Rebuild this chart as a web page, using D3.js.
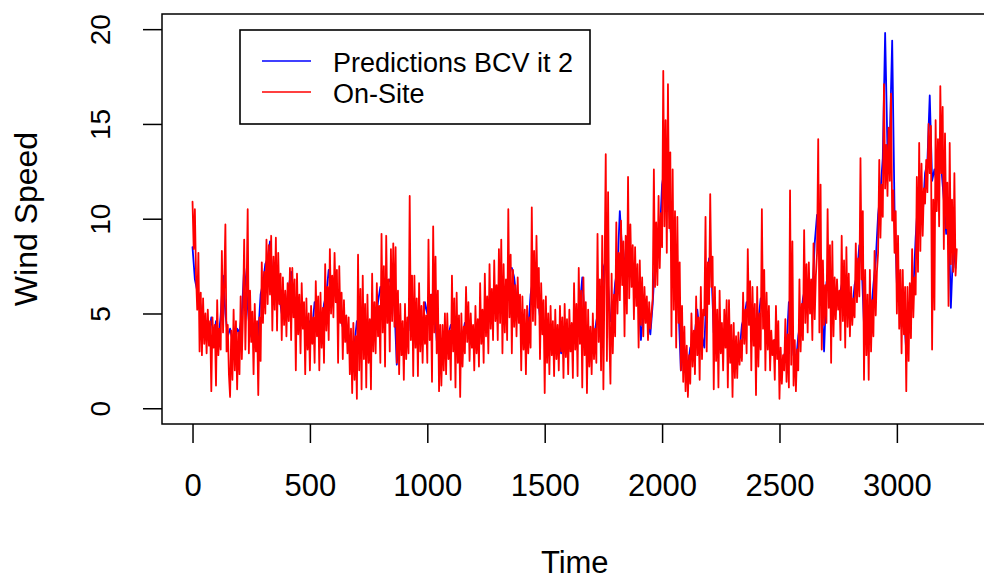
<!DOCTYPE html>
<html>
<head>
<meta charset="utf-8">
<script src="https://cdn.jsdelivr.net/npm/d3@7"></script>
<style>
  body { margin: 0; background: #fff; }
  svg { display: block; }
  text { font-family: "Liberation Sans", Arial, Helvetica, sans-serif; fill: #000; }
</style>
</head>
<body>
<svg id="chart" width="984" height="580"></svg>
<script>
// Measured wind speed, one value every 5 time steps
const onSiteStep = 5;
const onSite = [
  10.9, 8.4, 10.5, 7.0, 5.2, 8.2, 3.0, 6.1, 2.8, 5.8, 3.4, 5.0, 2.9, 5.2, 3.3, 4.6,
  0.9, 4.8, 3.2, 4.4, 1.2, 5.7, 2.8, 4.2, 3.1, 8.3, 4.0, 6.5, 9.7, 3.0, 4.4, 1.8,
  0.6, 4.1, 1.5, 5.2, 2.0, 4.6, 1.0, 4.0, 1.8, 5.9, 2.6, 5.0, 8.9, 3.1, 6.0, 10.5,
  2.9, 6.2, 3.5, 5.1, 1.8, 5.5, 3.0, 4.6, 0.7, 4.8, 2.5, 7.7, 4.5, 7.2, 5.0, 8.9,
  5.5, 8.6, 6.0, 9.1, 4.1, 8.0, 5.2, 9.0, 4.1, 8.2, 5.5, 7.1, 3.6, 6.9, 4.4, 6.2,
  3.8, 6.6, 4.6, 7.4,
  3.6, 7.4, 4.8, 6.8, 2.0, 7.1, 3.9, 6.0, 2.9, 6.6, 4.2, 5.6, 1.8, 5.8, 3.1, 5.0,
  2.0, 5.4, 3.4, 4.8, 2.4, 6.7, 3.8, 5.9, 2.0, 6.1, 3.2, 5.3, 2.4, 7.6, 4.1, 6.4,
  3.6, 8.4, 5.0, 7.0, 4.8, 8.2, 5.6, 7.3, 2.4, 7.5, 4.5, 6.1, 2.6, 5.7, 3.5, 4.9,
  2.9, 4.8, 1.8, 4.2, 0.8, 4.5, 1.5, 3.8, 0.5, 8.1, 2.0, 6.3, 1.0, 7.0, 2.6, 5.5,
  1.1, 6.0, 2.4, 4.7, 1.0, 7.1, 3.0, 5.6, 2.9, 6.6, 3.8, 5.4, 2.4, 9.2, 4.0, 7.5,
  2.2, 9.1, 4.5, 6.8, 3.0, 8.4, 4.6, 8.7,
  4.3, 8.5, 2.4, 6.2, 1.8, 5.5, 2.8, 4.6, 1.5, 5.5, 2.6, 4.8, 2.9, 11.2, 3.6, 7.0,
  1.7, 7.0, 3.2, 5.8, 1.7, 6.6, 3.0, 5.4, 2.4, 5.6, 3.4, 4.9, 2.4, 8.9, 3.6, 6.0,
  1.4, 9.6, 4.0, 8.0, 2.9, 6.2, 0.9, 4.4, 1.2, 4.4, 2.0, 5.0, 1.8, 5.0, 2.6, 4.1,
  1.5, 7.0, 3.0, 5.8, 1.1, 6.1, 2.4, 4.9, 0.6, 5.0, 2.2, 4.3, 2.9, 6.4, 3.5, 5.6,
  2.5, 5.0, 3.2, 4.4, 2.0, 5.4, 2.9, 4.7, 2.2, 6.6, 3.4, 5.2, 2.4, 7.1, 3.8, 5.9,
  2.9, 7.6, 4.2, 6.3, 3.6, 7.8, 4.6, 6.5,
  3.6, 8.4, 4.5, 8.9, 2.9, 7.6, 4.0, 6.8, 3.6, 10.5, 4.8, 8.1, 2.9, 7.3, 4.3, 6.5,
  3.8, 6.9, 4.5, 6.0, 2.0, 5.9, 3.1, 5.2, 1.8, 5.4, 2.9, 4.8, 3.2, 10.6, 4.6, 8.3,
  4.4, 9.1, 5.3, 7.4, 2.6, 6.6, 3.9, 5.7, 0.8, 5.9, 2.4, 5.0, 1.8, 5.4, 2.8, 4.6,
  1.7, 5.2, 2.6, 4.4, 2.0, 5.4, 3.0, 4.8, 1.6, 5.5, 2.7, 4.7, 1.8, 5.2, 3.0, 4.5,
  1.6, 6.6, 3.1, 5.5, 1.7, 7.4, 3.4, 6.2, 1.1, 6.9, 2.8, 5.6, 0.8, 5.2, 2.2, 4.3,
  1.8, 5.0, 2.6, 4.2, 2.4, 9.2, 3.5, 6.8,
  2.0, 9.1, 1.0, 7.2, 13.4, 2.5, 11.4, 4.0, 1.3, 7.1, 2.9, 6.0, 3.8, 9.8, 5.0, 8.2,
  5.7, 9.9, 6.5, 8.8, 3.8, 9.1, 5.0, 12.2, 5.8, 9.7, 6.4, 8.6, 4.7, 8.5, 5.4, 7.6,
  3.2, 7.8, 4.4, 6.9, 3.8, 6.4, 4.5, 5.9, 3.6, 5.6, 4.2, 5.0, 5.8, 12.6, 6.4, 9.8,
  6.5, 11.2, 7.4, 10.3, 8.5, 17.8, 9.6, 15.2, 8.2, 17.1, 9.5, 13.5, 3.8, 12.6, 5.2, 10.4,
  3.2, 10.1, 4.5, 7.7, 2.0, 5.4, 1.4, 4.3, 0.9, 3.3, 0.6, 2.8, 1.3, 5.0, 2.2, 4.1,
  1.8, 5.9, 2.8, 4.8, 1.5, 6.4, 2.6, 5.2, 4.9, 10.1, 3.0, 7.7,
  5.5, 11.3, 6.4, 8.0, 1.0, 6.4, 2.5, 5.2, 1.1, 6.2, 2.9, 4.5, 2.0, 5.2, 3.2, 5.7,
  1.1, 5.7, 2.4, 4.4, 0.6, 4.5, 1.6, 3.8, 1.6, 4.0, 2.3, 3.6, 2.5, 6.1, 3.4, 5.2,
  2.9, 8.4, 4.4, 6.7, 2.0, 6.4, 3.3, 5.5, 0.7, 6.4, 2.2, 5.0, 3.1, 10.5, 4.2, 7.3,
  2.0, 6.1, 3.1, 5.4, 2.0, 4.1, 2.8, 3.6, 1.5, 5.4, 2.6, 4.6, 0.5, 3.2, 1.3, 2.8,
  2.0, 4.7, 1.4, 3.9, 1.1, 11.5, 2.3, 8.8, 1.2, 3.6, 0.9, 3.1, 2.0, 6.8, 3.0, 5.5,
  3.6, 9.4, 4.5, 7.6, 4.0, 7.7, 5.0, 6.8,
  3.6, 8.7, 4.7, 7.0, 8.2, 14.2, 4.0, 11.8, 3.1, 7.8, 4.4, 6.5, 4.5, 10.5, 5.3, 8.6,
  2.4, 8.8, 3.8, 6.9, 4.7, 6.8, 5.2, 6.2, 3.6, 9.1, 4.6, 7.8, 3.2, 8.5, 4.3, 7.1,
  3.8, 6.4, 4.4, 5.8, 4.8, 8.7, 5.6, 7.9, 5.9, 13.2, 6.8, 10.4, 1.5, 7.3, 2.8, 6.0,
  1.5, 7.3, 3.0, 5.7, 3.8, 8.3, 4.9, 7.2, 8.2, 13.1, 9.0, 11.8, 10.1, 17.1, 11.6, 13.9,
  11.2, 14.8, 12.0, 16.6, 9.9, 11.5, 8.2, 10.4, 5.0, 9.1, 4.2, 7.3, 2.9, 7.3, 3.9, 6.4,
  0.9, 6.4, 2.5, 6.6, 3.7, 8.4, 4.8, 6.9,
  6.0, 12.2, 7.2, 14.0, 8.3, 12.9, 9.1, 11.6, 10.8, 13.1, 11.4, 15.0, 12.4, 14.9, 3.1, 11.0,
  5.2, 15.2, 10.4, 14.2, 9.6, 17.0, 12.4, 15.9, 8.4, 14.5, 9.5, 11.9, 5.4, 14.0, 7.6, 11.0,
  7.2, 12.4, 7.0, 8.4
];

// Model predictions (BCV, iteration 2), one value every 10 time steps
const predictionStep = 10;
const predictions = [
  8.5, 6.8, 6.2, 5.8, 4.9, 4.4, 4.6, 3.9, 4.8, 3.6, 4.6, 3.5, 4.9, 7.0, 5.0, 3.8,
  4.2, 3.6, 3.4, 4.2, 4.0, 5.0, 7.4, 6.2, 4.6, 3.8, 3.5, 3.3, 3.9, 6.0, 6.6, 7.6,
  7.9, 8.8, 7.0, 6.4, 6.6, 5.9, 5.0, 5.6, 5.4, 6.4,
  7.2, 6.0, 5.2, 4.7, 4.4, 4.9, 4.2, 3.9, 4.6, 4.2, 5.6, 5.0, 4.3, 4.5, 5.5, 6.0,
  7.3, 6.5, 6.8, 6.2, 5.4, 4.8, 4.3, 3.8, 3.5, 3.0, 2.6, 3.4, 4.6, 4.2, 4.4, 3.7,
  3.5, 4.0, 4.6, 4.8, 4.6, 5.6, 6.4, 5.8, 5.9, 6.6, 6.8, 6.3,
  5.4, 2.3, 4.0, 3.6, 3.8, 4.0, 4.1, 7.0, 3.3, 4.6, 4.4, 4.2, 4.1, 5.6, 5.0, 5.8,
  6.0, 5.4, 3.6, 2.8, 3.3, 3.5, 3.6, 3.9, 4.4, 4.2, 3.8, 3.5, 3.3, 3.8, 4.5, 4.3,
  3.9, 3.6, 3.8, 4.0, 4.2, 4.6, 4.9, 5.0, 5.3, 5.6, 5.8, 5.6,
  6.0, 6.3, 5.6, 5.9, 6.5, 7.4, 7.4, 6.9, 5.8, 5.1, 4.4, 4.0, 3.9, 4.2, 6.0, 6.8,
  6.6, 6.0, 4.8, 4.3, 3.8, 3.5, 3.6, 3.9, 3.5, 3.3, 3.8, 2.9, 3.6, 4.0, 3.8, 3.2,
  4.1, 4.6, 4.9, 5.4, 6.9, 4.6, 3.4, 3.3, 3.5, 3.7, 4.6, 5.2,
  4.3, 7.4, 7.8, 6.5, 4.6, 5.0, 6.6, 7.4, 10.4, 8.2, 7.6, 9.0, 8.0, 7.4, 6.5, 6.2,
  5.6, 3.6, 5.1, 4.9, 4.6, 3.9, 5.5, 7.8, 8.8, 9.0, 11.8, 12.6, 12.0, 10.5, 8.8, 7.8,
  6.4, 5.3, 2.0, 3.4, 2.0, 2.2, 3.2, 3.4, 4.0, 5.2, 4.0, 3.8, 3.2, 6.6,
  7.9, 7.3, 4.0, 3.8, 3.6, 3.9, 3.8, 4.4, 3.7, 3.2, 2.6, 3.0, 2.9, 3.0, 4.4, 4.8,
  5.6, 5.4, 4.3, 4.0, 3.6, 4.6, 5.8, 5.5, 4.6, 4.2, 3.4, 3.1, 3.6, 3.4, 2.4, 2.0,
  2.8, 3.2, 5.6, 4.4, 2.8, 2.4, 3.8, 4.6, 5.8, 6.4, 6.2, 6.0,
  5.8, 8.7, 10.2, 9.4, 5.5, 3.0, 6.6, 7.3, 5.6, 5.0, 5.6, 5.8, 6.2, 6.8, 7.0, 5.8,
  5.0, 5.2, 6.5, 7.0, 8.6, 7.6, 4.4, 4.2, 4.6, 5.0, 6.5, 7.8, 10.2, 11.4, 13.2, 19.8,
  13.6, 14.2, 19.4, 10.5, 6.6, 5.8, 4.3, 5.0, 3.0, 4.6, 5.4, 6.2,
  9.0, 11.0, 10.6, 10.2, 12.4, 13.0, 16.5, 12.0, 12.6, 11.8, 14.0, 12.6, 11.0, 9.2, 10.2, 5.3,
  8.6, 7.4
];

const xTicks = [0, 500, 1000, 1500, 2000, 2500, 3000];
const yTicks = [0, 5, 10, 15, 20];
const seriesNames = ["Predictions BCV it 2", "On-Site"];
const seriesColors = ["#0000FF", "#FF0000"];
const xTitle = "Time";
const yTitle = "Wind Speed";

const svg = d3.select("#chart");
const plot = { left: 162, top: 14, right: 987.5, bottom: 424 };

const x = d3.scaleLinear().domain([-130, 3386]).range([plot.left, plot.right]);
const y = d3.scaleLinear().domain([-0.83, 20.8]).range([plot.bottom, plot.top]);

// series: predictions underneath, measurements on top
const lineFor = step => d3.line()
  .x((d, i) => x(i * step))
  .y(d => y(d));

svg.append("path")
  .datum(predictions)
  .attr("d", lineFor(predictionStep))
  .attr("fill", "none")
  .attr("stroke", seriesColors[0])
  .attr("stroke-width", 1.8)
  .attr("stroke-linejoin", "round")
  .attr("stroke-linecap", "round");

svg.append("path")
  .datum(onSite)
  .attr("d", lineFor(onSiteStep))
  .attr("fill", "none")
  .attr("stroke", seriesColors[1])
  .attr("stroke-width", 1.8)
  .attr("stroke-linejoin", "round")
  .attr("stroke-linecap", "round");

// plot frame
svg.append("rect")
  .attr("x", plot.left).attr("y", plot.top)
  .attr("width", plot.right - plot.left).attr("height", plot.bottom - plot.top)
  .attr("fill", "none").attr("stroke", "#000").attr("stroke-width", 1.5);

// x axis
const gx = svg.append("g")
  .attr("transform", `translate(0,${plot.bottom})`)
  .call(d3.axisBottom(x).tickValues(xTicks).tickSize(19).tickFormat(d3.format("d")));
gx.select(".domain").remove();
gx.selectAll(".tick line").attr("stroke", "#000").attr("stroke-width", 1.5);
gx.selectAll(".tick text")
  .attr("y", 72).attr("dy", null)
  .style("font-family", '"Liberation Sans", Arial, sans-serif')
  .style("font-size", "31px").attr("fill", "#000");

// y axis
const gy = svg.append("g")
  .attr("transform", `translate(${plot.left},0)`)
  .call(d3.axisLeft(y).tickValues(yTicks).tickSize(19).tickFormat(d3.format("d")));
gy.select(".domain").remove();
gy.selectAll(".tick line").attr("stroke", "#000").attr("stroke-width", 1.5);
gy.selectAll(".tick text")
  .attr("x", null).attr("dy", null)
  .attr("text-anchor", "middle")
  .attr("transform", "translate(-52,0) rotate(-90)")
  .style("font-family", '"Liberation Sans", Arial, sans-serif')
  .style("font-size", "28px").attr("fill", "#000");

// axis titles
svg.append("text")
  .attr("x", (plot.left + plot.right) / 2).attr("y", 573)
  .attr("text-anchor", "middle")
  .style("font-size", "31px")
  .text(xTitle);

svg.append("text")
  .attr("transform", `translate(37,${(plot.top + plot.bottom) / 2}) rotate(-90)`)
  .attr("text-anchor", "middle")
  .style("font-size", "32px")
  .text(yTitle);

// legend
const legend = svg.append("g");
legend.append("rect")
  .attr("x", 240).attr("y", 30).attr("width", 350).attr("height", 94)
  .attr("fill", "#fff").attr("stroke", "#000").attr("stroke-width", 1.6);

const legendRows = seriesNames.map((name, i) => ({ name, color: seriesColors[i], i }));
const rowY = [61, 92];
legend.selectAll("line.key")
  .data(legendRows)
  .join("line")
  .attr("class", "key")
  .attr("x1", 262).attr("x2", 311)
  .attr("y1", d => rowY[d.i]).attr("y2", d => rowY[d.i])
  .attr("stroke", d => d.color).attr("stroke-width", 1.6);

legend.selectAll("text.key")
  .data(legendRows)
  .join("text")
  .attr("class", "key")
  .attr("x", 333)
  .attr("y", d => rowY[d.i] + 11)
  .style("font-size", "27px")
  .text(d => d.name);
</script>
</body>
</html>
